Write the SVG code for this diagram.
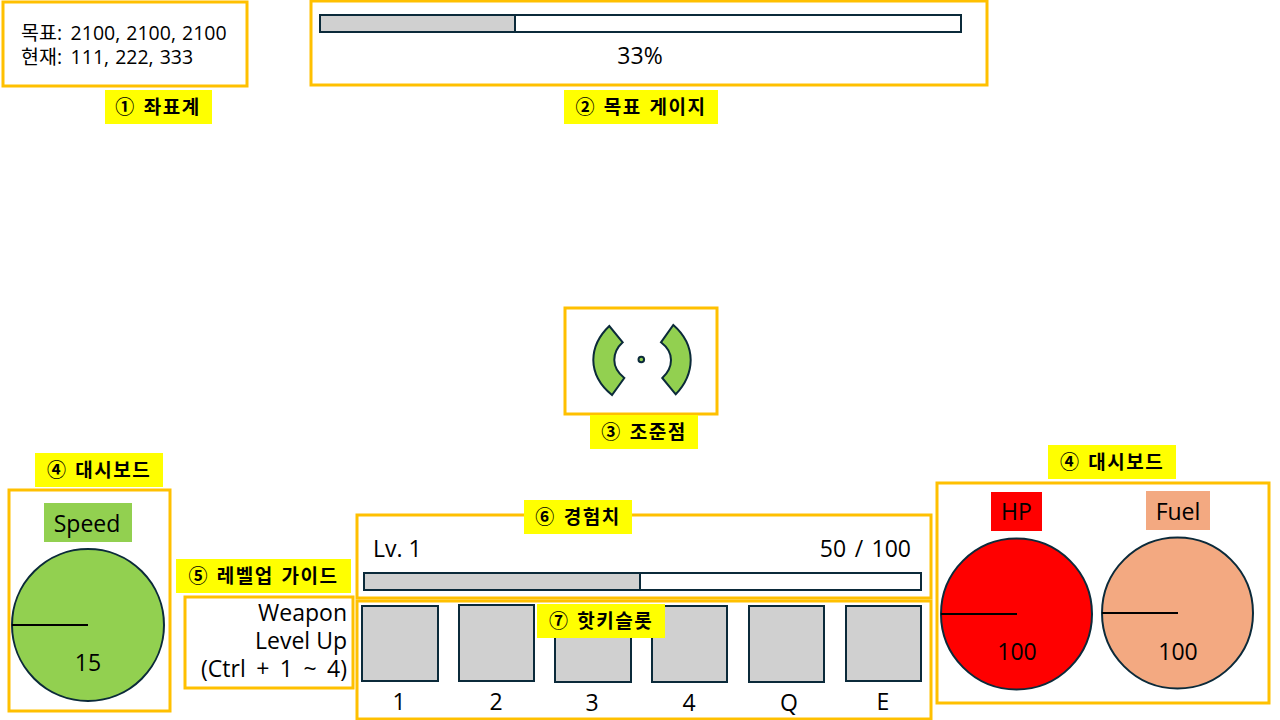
<svg xmlns="http://www.w3.org/2000/svg" width="1280" height="720" viewBox="0 0 1280 720">
<style>
text{font-family:"Open Sans","Noto Sans CJK KR","Noto Sans",sans-serif;font-size:23px;fill:#000}
.frame{fill:#fff;stroke:#FFC000;stroke-width:3}
.tag{fill:#FF0}
.tagt{font-family:"Noto Sans CJK KR","Noto Sans",sans-serif;font-size:19px;font-weight:700;text-anchor:middle;letter-spacing:1.5px;word-spacing:2px}
.bar{fill:#fff;stroke:#0B2A3A;stroke-width:2}
.fill{fill:#D0D0D0;stroke:#0B2A3A;stroke-width:2}
.gauge{stroke:#0B2A3A;stroke-width:2}
.needle{stroke:#000;stroke-width:2}
.m{text-anchor:middle}
.e{text-anchor:end}
.ws{word-spacing:4.5px}
.ws2{word-spacing:2.500px}
.co{font-size:19.5px;word-spacing:1px}
.slot{fill:#D0D0D0;stroke:#0B2A3A;stroke-width:2}
.green{fill:#92D050}
</style>
<g id="coords">
<rect class="frame" x="3" y="2" width="244" height="84"/>
<text class="co" x="21" y="40">목표: <tspan dx="2.500">2100, 2100, 2100</tspan></text>
<text class="co" x="21" y="64">현재: <tspan dx="2.500">111, 222, 333</tspan></text>
<rect class="tag" x="105" y="90" width="107" height="34"/>
<text class="tagt" x="158" y="114">① 좌표계</text>
</g>
<g id="target-gauge">
<rect class="frame" x="311" y="1" width="676" height="84"/>
<rect class="bar" x="320" y="15" width="641" height="17"/>
<rect class="fill" x="320" y="15" width="195" height="17"/>
<text class="m" x="640" y="64">33%</text>
<rect class="tag" x="564" y="90" width="154" height="34"/>
<text class="tagt" x="641" y="114">② 목표 게이지</text>
</g>
<g id="crosshair">
<rect class="frame" x="565" y="308" width="152" height="106"/>
<path class="green gauge" d="M609.300 326Q593.500 341 593.300 360Q593.500 380 612 395L624.300 378Q614.300 370 614.300 360Q614.300 350 622.700 342.300Z"/>
<path class="green gauge" d="M673.300 325Q690.500 340 690.700 360Q690.500 379 675.700 394.300L662.300 378Q671 370 671 360Q671 350 661 342.300Z"/>
<circle class="green gauge" cx="641.300" cy="359.500" r="2.800"/>
<rect class="tag" x="590" y="415" width="108" height="34"/>
<text class="tagt" x="644" y="439">③ 조준점</text>
</g>
<g id="dashboard-left">
<rect class="frame" x="9" y="490" width="161" height="221"/>
<rect class="green" x="44" y="503" width="88" height="39"/>
<text class="m" x="87" y="532">Speed</text>
<circle class="green gauge" cx="88" cy="625" r="76"/>
<line class="needle" x1="12" y1="625" x2="88" y2="625"/>
<text class="m" x="88" y="671">15</text>
<rect class="tag" x="35" y="453" width="128" height="34"/>
<text class="tagt" x="99" y="477">④ 대시보드</text>
</g>
<g id="levelup-guide">
<rect class="frame" x="185" y="597" width="168" height="91"/>
<text class="e" x="347" y="621">Weapon</text>
<text class="e" x="347" y="649">Level Up</text>
<text class="e ws" x="347" y="677">(Ctrl + 1 ~ 4)</text>
<rect class="tag" x="176" y="559" width="175" height="34"/>
<text class="tagt" x="263.500" y="583">⑤ 레벨업 가이드</text>
</g>
<g id="exp">
<rect class="frame" x="357" y="515" width="574" height="83"/>
<text x="373" y="557">Lv. 1</text>
<text class="e ws2" x="911" y="557">50 / 100</text>
<rect class="bar" x="364" y="573" width="557" height="17"/>
<rect class="fill" x="364" y="573" width="276" height="17"/>
<rect class="tag" x="524" y="500" width="108" height="34"/>
<text class="tagt" x="578" y="524">⑥ 경험치</text>
</g>
<g id="hotkeys">
<rect class="frame" x="357" y="601" width="574" height="118"/>
<rect class="slot" x="362" y="606" width="76" height="75"/>
<rect class="slot" x="459" y="605" width="75" height="76"/>
<rect class="slot" x="555" y="606" width="76" height="76"/>
<rect class="slot" x="652" y="606" width="75" height="76"/>
<rect class="slot" x="749" y="606" width="75" height="76"/>
<rect class="slot" x="846" y="606" width="75" height="75"/>
<text class="m" x="399" y="710">1</text>
<text class="m" x="496" y="710">2</text>
<text class="m" x="592" y="711">3</text>
<text class="m" x="689" y="711">4</text>
<text class="m" x="789" y="711">Q</text>
<text class="m" x="883" y="710">E</text>
<rect class="tag" x="537" y="604" width="128" height="34"/>
<text class="tagt" x="601" y="628">⑦ 핫키슬롯</text>
</g>
<g id="dashboard-right">
<rect class="frame" x="937" y="483" width="332" height="220"/>
<rect x="991" y="492" width="51" height="39" fill="#F00"/>
<text class="m" x="1016.500" y="520">HP</text>
<rect x="1146" y="491" width="64" height="39" fill="#F3A981"/>
<text class="m" x="1178" y="520">Fuel</text>
<circle class="gauge" cx="1016.500" cy="614" r="75.500" fill="#F00"/>
<line class="needle" x1="941" y1="614" x2="1017" y2="614"/>
<text class="m" x="1017" y="660">100</text>
<circle class="gauge" cx="1177.500" cy="613" r="75.500" fill="#F3A981"/>
<line class="needle" x1="1102" y1="613" x2="1178" y2="613"/>
<text class="m" x="1178" y="660">100</text>
<rect class="tag" x="1048" y="445" width="128" height="34"/>
<text class="tagt" x="1112" y="469">④ 대시보드</text>
</g>
</svg>
